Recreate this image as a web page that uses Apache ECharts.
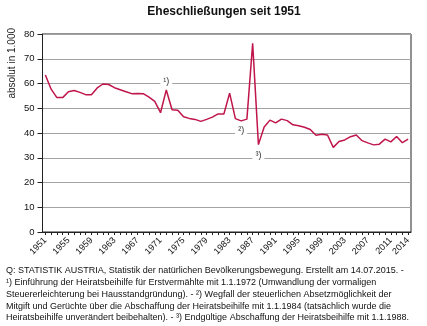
<!DOCTYPE html>
<html><head><meta charset="utf-8">
<script src="https://cdn.jsdelivr.net/npm/echarts@6/dist/echarts.min.js"></script>
<style>html,body{margin:0;padding:0;background:#fff}#c{width:427px;height:326px}</style>
</head><body><div id="c"></div>
<script>
const years = ['1951','1952','1953','1954','1955','1956','1957','1958','1959','1960',
'1961','1962','1963','1964','1965','1966','1967','1968','1969','1970',
'1971','1972','1973','1974','1975','1976','1977','1978','1979','1980',
'1981','1982','1983','1984','1985','1986','1987','1988','1989','1990',
'1991','1992','1993','1994','1995','1996','1997','1998','1999','2000',
'2001','2002','2003','2004','2005','2006','2007','2008','2009','2010',
'2011','2012','2013','2014'];
const marriages = [63.4,57.7,54.3,54.3,56.7,57.2,56.4,55.5,55.5,58.2,
59.8,59.6,58.3,57.5,56.7,55.9,56.0,55.9,54.5,52.8,
48.2,57.4,49.4,49.2,46.6,45.9,45.5,44.7,45.5,46.4,
47.7,47.7,56.1,45.8,44.9,45.6,76.2,35.3,42.4,45.2,
44.1,45.6,45.0,43.3,42.9,42.3,41.4,39.1,39.5,39.2,
34.2,36.6,37.2,38.5,39.2,36.9,36.0,35.2,35.5,37.5,
36.4,38.6,36.1,37.5];
const shownYears = ['1951','1955','1959','1963','1967','1971','1975','1979','1983','1987','1991','1995','1999','2003','2007','2011','2014'];
const notes = [
  {name:'¹)', year:'1972', value:61.0},
  {name:'²)', year:'1985', value:40.9},
  {name:'³)', year:'1988', value:31.0}
];
const titleText = 'Eheschließungen seit 1951';
const yName = 'absolut in 1.000';
const footLines = [
 'Q: STATISTIK AUSTRIA, Statistik der natürlichen Bevölkerungsbewegung. Erstellt am 14.07.2015. -',
 '¹) Einführung der Heiratsbeihilfe für Erstvermählte mit 1.1.1972 (Umwandlung der vormaligen',
 'Steuererleichterung bei Hausstandgründung). - ²) Wegfall der steuerlichen Absetzmöglichkeit der',
 'Mitgift und Gerüchte über die Abschaffung der Heiratsbeihilfe mit 1.1.1984 (tatsächlich wurde die',
 'Heiratsbeihilfe unverändert beibehalten). - ³) Endgültige Abschaffung der Heiratsbeihilfe mit 1.1.1988.'
];
const FONT = 'Liberation Sans, Arial, Helvetica, sans-serif';
const chart = echarts.init(document.getElementById('c'), null, {renderer:'canvas'});
const graphics = [{
  type:'text', x:12, y:28, rotation:Math.PI/2,
  style:{text:yName, font:'10px '+FONT, fill:'#222', textAlign:'right', textVerticalAlign:'middle'}
}, {
  type:'text', x:224, y:12,
  style:{text:titleText, font:'bold 12px '+FONT, fill:'#111', textAlign:'center', textVerticalAlign:'middle'}
}];
footLines.forEach((t,i)=>{
  graphics.push({type:'text', x:6, y:271+i*11.7,
    style:{text:t, font:'9px '+FONT, fill:'#111', textAlign:'left', textVerticalAlign:'middle'}});
});
chart.setOption({
  animation:false,
  grid:{left:42.5, right:16, top:34, bottom:94, show:true, borderColor:'#222', borderWidth:1, backgroundColor:'transparent'},
  xAxis:{type:'category', data:years, boundaryGap:true,
    axisLine:{lineStyle:{color:'#222', width:1}},
    axisTick:{show:true, interval:0, alignWithLabel:true, length:3, lineStyle:{color:'#222'}},
    axisLabel:{interval:(i,v)=>shownYears.indexOf(v)>=0, rotate:45, fontSize:9, fontFamily:FONT, color:'#111', margin:7},
    splitLine:{show:false}},
  yAxis:{type:'value', min:0, max:80, interval:10,
    axisLine:{show:true, lineStyle:{color:'#222', width:1}},
    axisTick:{show:true, length:5, lineStyle:{color:'#222'}},
    axisLabel:{fontSize:9.5, fontFamily:FONT, color:'#111', margin:8},
    splitLine:{show:true, lineStyle:{color:'#a3a3a3', width:1}}},
  series:[{type:'line', data:marriages, symbol:'none', smooth:false,
    lineStyle:{color:'#c0154b', width:1.5}, itemStyle:{color:'#c0154b'},
    markPoint:{symbol:'circle', symbolSize:0, silent:true,
      label:{show:true, position:'inside', formatter:p=>p.name, fontSize:9, fontFamily:FONT, color:'#333',
        backgroundColor:'#fff', padding:[0,3]},
      data:notes.map(n=>({name:n.name, coord:[n.year, n.value]}))}
  }],
  graphic:graphics
});
</script></body></html>
